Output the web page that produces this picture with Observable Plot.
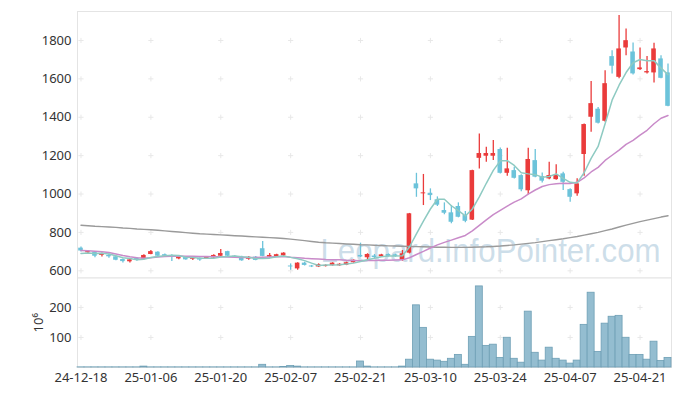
<!DOCTYPE html>
<html><head><meta charset="utf-8">
<script src="https://cdn.jsdelivr.net/npm/d3@7"></script>
<script src="https://cdn.jsdelivr.net/npm/@observablehq/plot@0.6"></script>
<style>
body{margin:0;background:#fff;}
#chart{position:relative;width:680px;height:396px;}
#chart svg{position:absolute;left:0;}
</style></head><body><div id="chart"></div>
<script>
const dates = ["24-12-18","24-12-19","24-12-20","24-12-23","24-12-24","24-12-26","24-12-27","24-12-30","25-01-02","25-01-03","25-01-06","25-01-07","25-01-08","25-01-09","25-01-10","25-01-13","25-01-14","25-01-15","25-01-16","25-01-17","25-01-20","25-01-21","25-01-22","25-01-23","25-01-24","25-01-31","25-02-03","25-02-04","25-02-05","25-02-06","25-02-07","25-02-10","25-02-11","25-02-12","25-02-13","25-02-14","25-02-17","25-02-18","25-02-19","25-02-20","25-02-21","25-02-24","25-02-25","25-02-26","25-02-27","25-02-28","25-03-04","25-03-05","25-03-06","25-03-07","25-03-10","25-03-11","25-03-12","25-03-13","25-03-14","25-03-17","25-03-18","25-03-19","25-03-20","25-03-21","25-03-24","25-03-25","25-03-26","25-03-27","25-03-28","25-03-31","25-04-01","25-04-02","25-04-03","25-04-04","25-04-07","25-04-08","25-04-09","25-04-10","25-04-11","25-04-14","25-04-15","25-04-16","25-04-17","25-04-18","25-04-21","25-04-22","25-04-23","25-04-24","25-04-25"];
const open = [718,694,697,680,680,673,659,647,666,662, 685,697,684,676,662,673,660,665,662,667, 676,700,676,673,660,671,715,671,673,678, 625,610,640,625,620,622,627,626,629,642, 680,668,677,673,685,683,654,692,1053,1001, 1004,970,914,902,935,888,864,1186,1197,1197, 1232,1108,1122,1096,1017,1174,1091,1079,1075,1105, 1023,1001,1206,1400,1442,1379,1716,1608,1761,1740, 1648,1631,1631,1704,1631];
const high = [724,706,700,693,688,676,661,662,669,684, 706,699,688,684,679,675,671,667,672,683, 711,702,679,676,674,674,753,690,686,694, 636,642,645,628,636,631,642,637,645,657, 744,689,685,686,688,686,706,899,1108,1102, 1027,985,954,940,954,909,1124,1313,1244,1279, 1240,1238,1140,1100,1238,1232,1110,1166,1153,1113, 1027,1079,1365,1586,1451,1642,1747,1930,1860,1787, 1761,1716,1785,1721,1678];
const low = [698,686,668,672,665,652,641,641,650,658, 683,674,669,648,658,655,654,650,660,664, 673,674,665,650,655,652,673,668,670,675, 603,603,625,617,617,620,624,624,627,640, 668,656,664,670,672,671,650,688,983,940, 966,935,892,845,876,850,862,1131,1166,1175, 1105,1093,1078,1012,996,1085,1058,1075,1072,1018, 957,989,1093,1322,1365,1374,1626,1600,1721,1620, 1643,1626,1579,1600,1455];
const close = [703,700,676,688,673,655,648,657,659,680, 700,676,676,671,676,657,666,656,670,680, 690,676,668,652,670,654,675,680,684,692, 620,640,628,620,632,628,640,634,642,655, 672,685,669,683,675,674,689,897,1027,1006, 992,942,900,853,879,858,1122,1211,1211,1211, 1108,1131,1082,1022,1180,1088,1067,1096,1096,1061, 983,1053,1362,1471,1369,1575,1666,1756,1799,1626, 1657,1638,1756,1603,1457];
const volume = [0.5,0.5,0.5,0.5,0.5,0.5,0.5,0.5,0.5,3, 0.5,0.5,0.5,0.5,0.5,0.5,0.5,0.5,0.5,0.5, 0.5,0.5,0.5,0.5,0.5,0.5,9,0.5,0.5,2, 5,3,0.5,0.5,0.5,0.5,0.5,0.5,0.5,0.5, 20,3,0.5,0.5,0.5,0.5,3,26,207,132, 26,23,19,29,42,9,102,270,72,76, 32,99,29,16,186,49,23,66,29,23, 13,23,142,249,52,146,169,172,99,42, 42,26,86,22,32];
const ma5 = [690,693,690,692,688,678,668,664,658,660, 669,674,678,681,680,671,669,665,665,666, 672,674,677,673,671,664,664,666,673,677, 670,663,653,640,628,630,630,631,635,640, 649,658,665,673,677,677,678,724,792,859, 922,973,973,939,913,886,922,985,1056,1123, 1173,1174,1149,1111,1105,1101,1088,1091,1105,1082, 1061,1058,1111,1186,1248,1366,1489,1567,1633,1684, 1701,1695,1695,1656,1622];
const ma20 = [706,704,702,699,695,688,680,673,668,666, 668,672,675,676,677,676,676,675,674,673, 673,672,671,669,669,669,671,672,673,674, 670,668,665,663,661,659,658,657,655,654, 653,654,654,655,655,656,657,668,685,701, 719,735,748,760,772,784,808,837,865,893, 915,937,958,975,1000,1021,1039,1049,1053,1056, 1055,1061,1084,1115,1139,1175,1202,1229,1259,1280, 1307,1332,1366,1395,1409];
const maLong = [837,835,832,830,828,826,823,821,818,816, 814,811,808,805,802,799,796,793,791,789, 787,785,783,781,779,777,775,773,771,768, 765,761,757,753,749,746,744,742,740,738, 736,735,733,732,730,729,728,727,726,725, 724,723,723,722,722,722,723,724,725,727, 729,732,735,739,743,747,752,757,762,767, 773,779,786,793,800,809,818,828,838,847, 856,864,872,880,887];
const xTicks = ["24-12-18","25-01-06","25-01-20","25-02-07","25-02-21","25-03-10","25-03-24","25-04-07","25-04-21"];
const priceTicks = [600,800,1000,1200,1400,1600,1800];
const volumeTicks = [100,200];
const watermark = "Leopard.InfoPointer.com";

const rows = dates.map((d, i) => ({date: d, open: open[i], high: high[i], low: low[i], close: close[i],
  volume: volume[i], ma5: ma5[i], ma20: ma20[i], maLong: maLong[i]}));
const upRows = rows.filter(d => d.close >= d.open);
const downRows = rows.filter(d => d.close < d.open);
const RED = "#ea3b3b", CYAN = "#6cc3da";
const font = '"Noto Sans", sans-serif';
const priceGrid = d3.cross(xTicks, priceTicks).map(([x, y]) => ({x, y}));
const volGrid = d3.cross(xTicks, volumeTicks).map(([x, y]) => ({x, y}));

const price = Plot.plot({
  width: 680, height: 278, marginTop: 11, marginBottom: 0.5, marginLeft: 77, marginRight: 9,
  style: {fontFamily: font, fontSize: "13px", color: "#333", background: "transparent"},
  x: {type: "band", domain: dates, padding: 0, axis: null},
  y: {domain: [562.5, 1951], ticks: priceTicks, tickFormat: d => String(d), tickSize: 0, tickPadding: 6, label: null},
  marks: [
    Plot.frame({stroke: "#e4e4e4"}),
    Plot.dot(priceGrid, {x: "x", y: "y", symbol: "plus", r: 1.8, stroke: "#e8e8e8", strokeWidth: 1}),
    Plot.text([watermark], {frameAnchor: "bottom", dx: 116, dy: -16, lineAnchor: "bottom", fontSize: 33,
      fontFamily: "Liberation Sans", fill: "#c4d8e6", fillOpacity: 0.85}),
    Plot.ruleX(upRows, {x: "date", y1: "low", y2: "high", stroke: RED, strokeWidth: 1.3}),
    Plot.ruleX(downRows, {x: "date", y1: "low", y2: "high", stroke: CYAN, strokeWidth: 1.3}),
    Plot.barY(upRows, {x: "date", y1: "open", y2: "close", fill: RED, insetLeft: 1.2, insetRight: 1.2}),
    Plot.barY(downRows, {x: "date", y1: "open", y2: "close", fill: CYAN, insetLeft: 1.2, insetRight: 1.2}),
    Plot.line(rows, {x: "date", y: "maLong", stroke: "#9a9a9a", strokeWidth: 1.4}),
    Plot.line(rows, {x: "date", y: "ma20", stroke: "#c98bc9", strokeWidth: 1.5}),
    Plot.line(rows, {x: "date", y: "ma5", stroke: "#8ecac2", strokeWidth: 1.5})
  ]
});

const vol = Plot.plot({
  width: 680, height: 119, marginTop: 0.5, marginBottom: 29, marginLeft: 77, marginRight: 9,
  style: {fontFamily: font, fontSize: "13px", color: "#333", background: "transparent"},
  x: {type: "band", domain: dates, padding: 0, ticks: xTicks, tickSize: 0, tickPadding: 5, label: null},
  y: {domain: [0, 298], ticks: volumeTicks, tickSize: 0, tickPadding: 6, label: "10⁶",
      labelAnchor: "center", labelArrow: "none", labelOffset: 44},
  marks: [
    Plot.frame({stroke: "#e4e4e4"}),
    Plot.dot(volGrid, {x: "x", y: "y", symbol: "plus", r: 1.8, stroke: "#e8e8e8", strokeWidth: 1}),
    Plot.barY(rows, {x: "date", y: "volume", fill: "#94bdd0", stroke: "#6e9fb5", strokeWidth: 0.8})
  ]
});

const wm = price.querySelector('g[aria-label="text"] text');
if (wm) { wm.setAttribute("textLength", "340"); wm.setAttribute("lengthAdjust", "spacingAndGlyphs"); }

price.style.top = "0px";
vol.style.top = "277px";
const chart = document.getElementById("chart");
chart.append(price, vol);
</script></body></html>
